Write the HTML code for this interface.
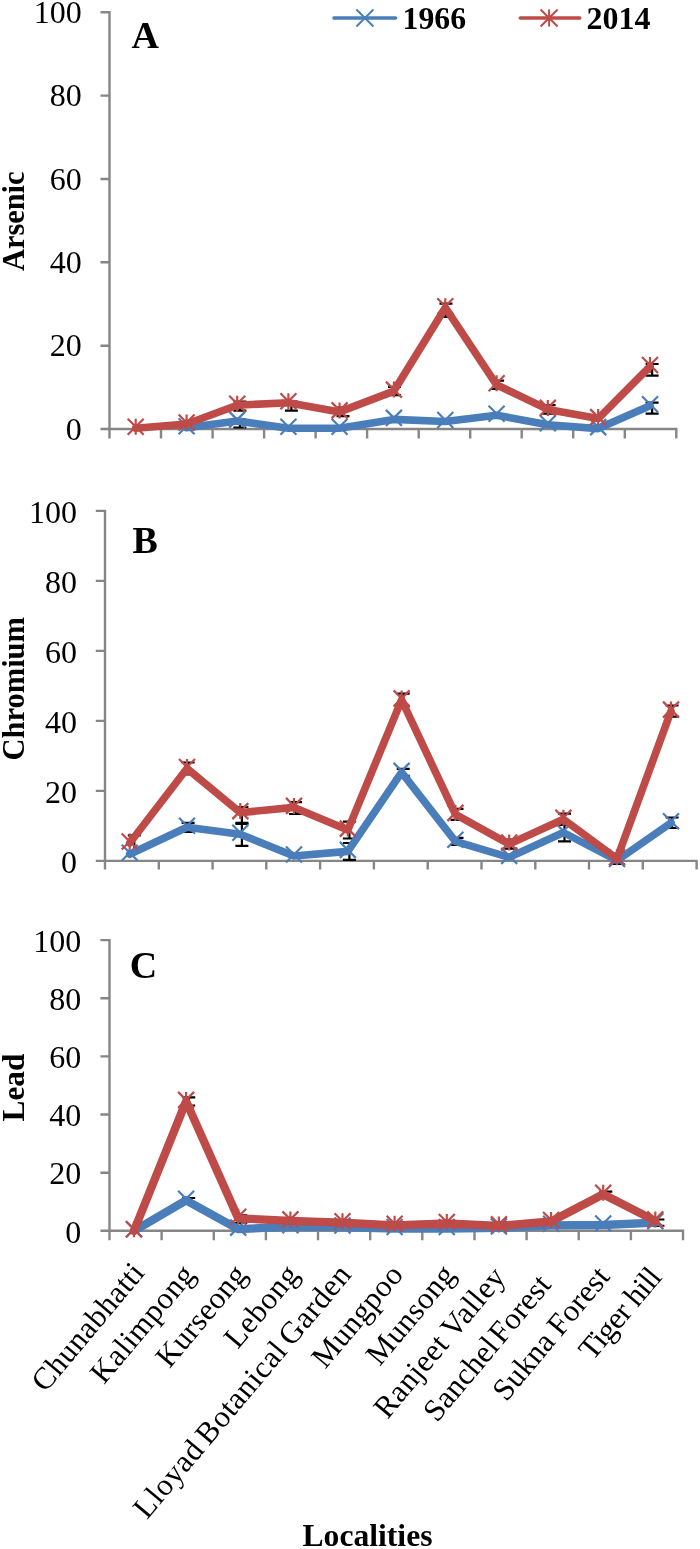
<!DOCTYPE html><html><head><meta charset="utf-8"><title>Localities</title><style>html,body{margin:0;padding:0;background:#fff}svg{display:block}</style></head><body><svg width="700" height="1549" viewBox="0 0 700 1549" font-family="'Liberation Serif', 'Times New Roman', serif" fill="#000">
<rect width="700" height="1549" fill="#fff"/>
<path d="M109.5 11.1V430.2M108.3 429.0H677.5M100.5 12.3H109.5M100.5 95.6H109.5M100.5 179.0H109.5M100.5 262.3H109.5M100.5 345.7H109.5M100.5 429.0H109.5M109.5 429.0V438.5M161.0 429.0V438.5M212.6 429.0V438.5M264.1 429.0V438.5M315.6 429.0V438.5M367.1 429.0V438.5M418.7 429.0V438.5M470.2 429.0V438.5M521.7 429.0V438.5M573.2 429.0V438.5M624.8 429.0V438.5M676.3 429.0V438.5" stroke="#868686" stroke-width="2.4" fill="none"/>
<path d="M239.9 419.6V427.5M233.4 419.6h13M233.4 427.5h13" stroke="#000" stroke-width="2.2" fill="none"/>
<path d="M291.4 401.5V410.7M284.9 401.5h13M284.9 410.7h13" stroke="#000" stroke-width="2.2" fill="none"/>
<path d="M652.1 364.0V375.7M645.6 364.0h13M645.6 375.7h13" stroke="#000" stroke-width="2.2" fill="none"/>
<path d="M652.1 402.7V413.6M645.6 402.7h13M645.6 413.6h13" stroke="#000" stroke-width="2.2" fill="none"/>
<path d="M446.0 303.6V316.9M439.5 303.6h13M439.5 316.9h13" stroke="#000" stroke-width="2.2" fill="none"/>
<path d="M394.5 386.9V395.2M388.0 386.9h13M388.0 395.2h13" stroke="#000" stroke-width="2.2" fill="none"/>
<path d="M497.6 380.7V389.0M491.1 380.7h13M491.1 389.0h13" stroke="#000" stroke-width="2.2" fill="none"/>
<path d="M549.1 405.2V413.6M542.6 405.2h13M542.6 413.6h13" stroke="#000" stroke-width="2.2" fill="none"/>
<path d="M343.0 407.7V416.1M336.5 407.7h13M336.5 416.1h13" stroke="#000" stroke-width="2.2" fill="none"/>
<path d="M239.9 401.5V410.7M233.4 401.5h13M233.4 410.7h13" stroke="#000" stroke-width="2.2" fill="none"/>
<path d="M186.6 427.7 L237.2 421.1 L288.4 428.2 L339.6 428.2 L393.9 419.4 L445.3 421.5 L496.6 415.2 L547.8 424.8 L598.2 428.6 L650.0 405.7" stroke="#4a7ebb" stroke-width="7.6" fill="none" stroke-linejoin="round" stroke-linecap="round"/>
<path d="M178.6 418.2L194.6 434.2M178.6 434.2L194.6 418.2M229.2 411.6L245.2 427.6M229.2 427.6L245.2 411.6M280.4 418.7L296.4 434.7M280.4 434.7L296.4 418.7M331.6 418.7L347.6 434.7M331.6 434.7L347.6 418.7M385.9 409.9L401.9 425.9M385.9 425.9L401.9 409.9M437.3 412.0L453.3 428.0M437.3 428.0L453.3 412.0M488.6 405.7L504.6 421.7M488.6 421.7L504.6 405.7M539.8 415.3L555.8 431.3M539.8 431.3L555.8 415.3M590.2 419.1L606.2 435.1M590.2 435.1L606.2 419.1M642.0 396.2L658.0 412.2M642.0 412.2L658.0 396.2" stroke="#4a7ebb" stroke-width="2.2" fill="none"/>
<path d="M135.7 428.2 L186.6 424.0 L237.2 405.2 L288.4 402.7 L339.6 411.9 L393.9 391.1 L445.3 307.7 L496.6 384.8 L547.8 409.4 L598.2 418.6 L650.0 366.5" stroke="#be4b48" stroke-width="7.6" fill="none" stroke-linejoin="round" stroke-linecap="round"/>
<path d="M127.7 418.7L143.7 434.7M127.7 434.7L143.7 418.7M135.7 418.7V434.7M178.6 414.5L194.6 430.5M178.6 430.5L194.6 414.5M186.6 414.5V430.5M229.2 395.7L245.2 411.7M229.2 411.7L245.2 395.7M237.2 395.7V411.7M280.4 393.2L296.4 409.2M280.4 409.2L296.4 393.2M288.4 393.2V409.2M331.6 402.4L347.6 418.4M331.6 418.4L347.6 402.4M339.6 402.4V418.4M385.9 381.6L401.9 397.6M385.9 397.6L401.9 381.6M393.9 381.6V397.6M437.3 298.2L453.3 314.2M437.3 314.2L453.3 298.2M445.3 298.2V314.2M488.6 375.3L504.6 391.3M488.6 391.3L504.6 375.3M496.6 375.3V391.3M539.8 399.9L555.8 415.9M539.8 415.9L555.8 399.9M547.8 399.9V415.9M590.2 409.1L606.2 425.1M590.2 425.1L606.2 409.1M598.2 409.1V425.1M642.0 357.0L658.0 373.0M642.0 373.0L658.0 357.0M650.0 357.0V373.0" stroke="#be4b48" stroke-width="2.2" fill="none"/>
<text x="81.8" y="23.0" font-size="32" text-anchor="end">100</text>
<text x="81.8" y="106.3" font-size="32" text-anchor="end">80</text>
<text x="81.8" y="189.7" font-size="32" text-anchor="end">60</text>
<text x="81.8" y="273.0" font-size="32" text-anchor="end">40</text>
<text x="81.8" y="356.3" font-size="32" text-anchor="end">20</text>
<text x="81.8" y="439.7" font-size="32" text-anchor="end">0</text>
<path d="M105.0 509.7V862.1M103.8 860.9H697.8M95.8 510.9H105.0M95.8 580.9H105.0M95.8 650.9H105.0M95.8 720.9H105.0M95.8 790.9H105.0M95.8 860.9H105.0M105.0 860.9V869.6M158.8 860.9V869.6M212.6 860.9V869.6M266.3 860.9V869.6M320.1 860.9V869.6M373.9 860.9V869.6M427.7 860.9V869.6M481.5 860.9V869.6M535.3 860.9V869.6M589.0 860.9V869.6M642.8 860.9V869.6M696.6 860.9V869.6" stroke="#868686" stroke-width="2.4" fill="none"/>
<path d="M134.3 835.4V850.8M127.8 835.4h13M127.8 850.8h13" stroke="#000" stroke-width="2.2" fill="none"/>
<path d="M188.1 762.5V774.4M181.6 762.5h13M181.6 774.4h13" stroke="#000" stroke-width="2.2" fill="none"/>
<path d="M188.1 822.8V831.9M181.6 822.8h13M181.6 831.9h13" stroke="#000" stroke-width="2.2" fill="none"/>
<path d="M241.9 807.0V823.8M235.4 807.0h13M235.4 823.8h13" stroke="#000" stroke-width="2.2" fill="none"/>
<path d="M241.9 822.8V845.9M235.4 822.8h13M235.4 845.9h13" stroke="#000" stroke-width="2.2" fill="none"/>
<path d="M295.6 802.1V814.0M289.1 802.1h13M289.1 814.0h13" stroke="#000" stroke-width="2.2" fill="none"/>
<path d="M349.4 821.7V838.5M342.9 821.7h13M342.9 838.5h13" stroke="#000" stroke-width="2.2" fill="none"/>
<path d="M349.4 843.0V859.9M342.9 843.0h13M342.9 859.9h13" stroke="#000" stroke-width="2.2" fill="none"/>
<path d="M403.2 693.6V706.2M396.7 693.6h13M396.7 706.2h13" stroke="#000" stroke-width="2.2" fill="none"/>
<path d="M403.2 768.9V775.9M396.7 768.9h13M396.7 775.9h13" stroke="#000" stroke-width="2.2" fill="none"/>
<path d="M457.0 808.8V819.9M450.5 808.8h13M450.5 819.9h13" stroke="#000" stroke-width="2.2" fill="none"/>
<path d="M457.0 837.8V844.8M450.5 837.8h13M450.5 844.8h13" stroke="#000" stroke-width="2.2" fill="none"/>
<path d="M510.8 839.5V848.6M504.3 839.5h13M504.3 848.6h13" stroke="#000" stroke-width="2.2" fill="none"/>
<path d="M564.5 813.6V824.9M558.0 813.6h13M558.0 824.9h13" stroke="#000" stroke-width="2.2" fill="none"/>
<path d="M564.5 823.8V841.3M558.0 823.8h13M558.0 841.3h13" stroke="#000" stroke-width="2.2" fill="none"/>
<path d="M618.3 853.5V864.0M611.8 853.5h13M611.8 864.0h13" stroke="#000" stroke-width="2.2" fill="none"/>
<path d="M672.1 705.5V716.7M665.6 705.5h13M665.6 716.7h13" stroke="#000" stroke-width="2.2" fill="none"/>
<path d="M672.1 817.5V828.0M665.6 817.5h13M665.6 828.0h13" stroke="#000" stroke-width="2.2" fill="none"/>
<path d="M129.7 854.2 L187.0 827.3 L240.3 834.3 L294.0 856.0 L347.8 851.4 L401.6 772.4 L455.4 841.3 L509.2 857.4 L563.4 832.5 L617.0 860.5 L671.0 822.8" stroke="#4a7ebb" stroke-width="7.6" fill="none" stroke-linejoin="round" stroke-linecap="round"/>
<path d="M121.7 844.8L137.7 860.8M121.7 860.8L137.7 844.8M179.0 817.8L195.0 833.8M179.0 833.8L195.0 817.8M232.3 824.8L248.3 840.8M232.3 840.8L248.3 824.8M286.0 846.5L302.0 862.5M286.0 862.5L302.0 846.5M339.8 841.9L355.8 857.9M339.8 857.9L355.8 841.9M393.6 762.9L409.6 778.9M393.6 778.9L409.6 762.9M447.4 831.8L463.4 847.8M447.4 847.8L463.4 831.8M501.2 847.9L517.2 863.9M501.2 863.9L517.2 847.9M555.4 823.0L571.4 839.0M555.4 839.0L571.4 823.0M609.0 851.0L625.0 867.0M609.0 867.0L625.0 851.0M663.0 813.2L679.0 829.2M663.0 829.2L679.0 813.2" stroke="#4a7ebb" stroke-width="2.2" fill="none"/>
<path d="M129.7 843.0 L187.0 768.5 L240.3 812.6 L294.0 807.4 L347.8 830.1 L401.6 699.9 L455.4 814.4 L509.2 844.1 L563.4 819.2 L617.0 858.8 L671.0 711.1" stroke="#be4b48" stroke-width="7.6" fill="none" stroke-linejoin="round" stroke-linecap="round"/>
<path d="M121.7 833.5L137.7 849.5M121.7 849.5L137.7 833.5M129.7 833.5V849.5M179.0 759.0L195.0 775.0M179.0 775.0L195.0 759.0M187.0 759.0V775.0M232.3 803.1L248.3 819.1M232.3 819.1L248.3 803.1M240.3 803.1V819.1M286.0 797.9L302.0 813.9M286.0 813.9L302.0 797.9M294.0 797.9V813.9M339.8 820.6L355.8 836.6M339.8 836.6L355.8 820.6M347.8 820.6V836.6M393.6 690.4L409.6 706.4M393.6 706.4L409.6 690.4M401.6 690.4V706.4M447.4 804.9L463.4 820.9M447.4 820.9L463.4 804.9M455.4 804.9V820.9M501.2 834.6L517.2 850.6M501.2 850.6L517.2 834.6M509.2 834.6V850.6M555.4 809.8L571.4 825.8M555.4 825.8L571.4 809.8M563.4 809.8V825.8M609.0 849.3L625.0 865.3M609.0 865.3L625.0 849.3M617.0 849.3V865.3M663.0 701.6L679.0 717.6M663.0 717.6L679.0 701.6M671.0 701.6V717.6" stroke="#be4b48" stroke-width="2.2" fill="none"/>
<text x="77.0" y="523.4" font-size="32" text-anchor="end">100</text>
<text x="77.0" y="593.4" font-size="32" text-anchor="end">80</text>
<text x="77.0" y="663.4" font-size="32" text-anchor="end">60</text>
<text x="77.0" y="733.4" font-size="32" text-anchor="end">40</text>
<text x="77.0" y="803.4" font-size="32" text-anchor="end">20</text>
<text x="77.0" y="873.4" font-size="32" text-anchor="end">0</text>
<path d="M109.5 938.9V1232.0M108.3 1230.8H684.2M100.4 940.1H109.5M100.4 998.2H109.5M100.4 1056.4H109.5M100.4 1114.5H109.5M100.4 1172.7H109.5M100.4 1230.8H109.5M109.5 1230.8V1240.3M161.6 1230.8V1240.3M213.8 1230.8V1240.3M265.9 1230.8V1240.3M318.0 1230.8V1240.3M370.2 1230.8V1240.3M422.3 1230.8V1240.3M474.5 1230.8V1240.3M526.6 1230.8V1240.3M578.7 1230.8V1240.3M630.9 1230.8V1240.3M683.0 1230.8V1240.3" stroke="#868686" stroke-width="2.4" fill="none"/>
<path d="M188.7 1097.4V1105.5M182.2 1097.4h13M182.2 1105.5h13" stroke="#000" stroke-width="2.2" fill="none"/>
<path d="M188.7 1198.0V1202.6M182.2 1198.0h13M182.2 1202.6h13" stroke="#000" stroke-width="2.2" fill="none"/>
<path d="M240.8 1215.4V1223.0M234.3 1215.4h13M234.3 1223.0h13" stroke="#000" stroke-width="2.2" fill="none"/>
<path d="M501.5 1222.4V1229.3M495.0 1222.4h13M495.0 1229.3h13" stroke="#000" stroke-width="2.2" fill="none"/>
<path d="M605.8 1191.6V1196.8M599.3 1191.6h13M599.3 1196.8h13" stroke="#000" stroke-width="2.2" fill="none"/>
<path d="M657.9 1219.5V1225.9M651.4 1219.5h13M651.4 1225.9h13" stroke="#000" stroke-width="2.2" fill="none"/>
<path d="M134.0 1230.8 L186.1 1200.3 L238.2 1229.1 L290.4 1226.7 L342.5 1227.0 L394.6 1228.5 L446.8 1228.5 L498.9 1227.9 L551.1 1225.3 L603.2 1225.0 L655.3 1222.7" stroke="#4a7ebb" stroke-width="8.3" fill="none" stroke-linejoin="round" stroke-linecap="round"/>
<path d="M126.0 1221.3L142.0 1237.3M126.0 1237.3L142.0 1221.3M178.1 1190.8L194.1 1206.8M178.1 1206.8L194.1 1190.8M230.2 1219.6L246.2 1235.6M230.2 1235.6L246.2 1219.6M282.4 1217.2L298.4 1233.2M282.4 1233.2L298.4 1217.2M334.5 1217.5L350.5 1233.5M334.5 1233.5L350.5 1217.5M386.6 1219.0L402.6 1235.0M386.6 1235.0L402.6 1219.0M438.8 1219.0L454.8 1235.0M438.8 1235.0L454.8 1219.0M490.9 1218.4L506.9 1234.4M490.9 1234.4L506.9 1218.4M543.1 1215.8L559.1 1231.8M543.1 1231.8L559.1 1215.8M595.2 1215.5L611.2 1231.5M595.2 1231.5L611.2 1215.5M647.3 1213.2L663.3 1229.2M647.3 1229.2L663.3 1213.2" stroke="#4a7ebb" stroke-width="2.2" fill="none"/>
<path d="M134.0 1230.8 L186.1 1101.4 L238.2 1218.3 L290.4 1220.9 L342.5 1222.7 L394.6 1225.3 L446.8 1223.5 L498.9 1225.9 L551.1 1221.5 L603.2 1194.2 L655.3 1220.9" stroke="#be4b48" stroke-width="8.3" fill="none" stroke-linejoin="round" stroke-linecap="round"/>
<path d="M126.0 1221.3L142.0 1237.3M126.0 1237.3L142.0 1221.3M134.0 1221.3V1237.3M178.1 1091.9L194.1 1107.9M178.1 1107.9L194.1 1091.9M186.1 1091.9V1107.9M230.2 1208.8L246.2 1224.8M230.2 1224.8L246.2 1208.8M238.2 1208.8V1224.8M282.4 1211.4L298.4 1227.4M282.4 1227.4L298.4 1211.4M290.4 1211.4V1227.4M334.5 1213.2L350.5 1229.2M334.5 1229.2L350.5 1213.2M342.5 1213.2V1229.2M386.6 1215.8L402.6 1231.8M386.6 1231.8L402.6 1215.8M394.6 1215.8V1231.8M438.8 1214.0L454.8 1230.0M438.8 1230.0L454.8 1214.0M446.8 1214.0V1230.0M490.9 1216.4L506.9 1232.4M490.9 1232.4L506.9 1216.4M498.9 1216.4V1232.4M543.1 1212.0L559.1 1228.0M543.1 1228.0L559.1 1212.0M551.1 1212.0V1228.0M595.2 1184.7L611.2 1200.7M595.2 1200.7L611.2 1184.7M603.2 1184.7V1200.7M647.3 1211.4L663.3 1227.4M647.3 1227.4L663.3 1211.4M655.3 1211.4V1227.4" stroke="#be4b48" stroke-width="2.2" fill="none"/>
<text x="81.3" y="951.8" font-size="32" text-anchor="end">100</text>
<text x="81.3" y="1009.9" font-size="32" text-anchor="end">80</text>
<text x="81.3" y="1068.1" font-size="32" text-anchor="end">60</text>
<text x="81.3" y="1126.2" font-size="32" text-anchor="end">40</text>
<text x="81.3" y="1184.3" font-size="32" text-anchor="end">20</text>
<text x="81.3" y="1242.5" font-size="32" text-anchor="end">0</text>
<text x="131.4" y="47.6" font-size="38" font-weight="bold">A</text>
<text x="132.6" y="553.2" font-size="38" font-weight="bold">B</text>
<text x="129.7" y="977.8" font-size="38" font-weight="bold">C</text>
<text transform="translate(23.6 271) rotate(-90)" font-size="32" font-weight="bold" textLength="99.5" lengthAdjust="spacingAndGlyphs">Arsenic</text>
<text transform="translate(23.6 760.5) rotate(-90)" font-size="32" font-weight="bold" textLength="143.5" lengthAdjust="spacingAndGlyphs">Chromium</text>
<text transform="translate(23.7 1121.5) rotate(-90)" font-size="32" font-weight="bold" textLength="68" lengthAdjust="spacingAndGlyphs">Lead</text>
<path d="M334 18H395.5" stroke="#4a7ebb" stroke-width="3.6" stroke-linecap="round"/>
<path d="M356.4 9.5l17 17m0-17l-17 17" stroke="#4a7ebb" stroke-width="2" fill="none"/>
<text x="402.5" y="28.5" font-size="32" font-weight="bold" textLength="63.5" lengthAdjust="spacingAndGlyphs">1966</text>
<path d="M520.3 18H579.7" stroke="#be4b48" stroke-width="3.6" stroke-linecap="round"/>
<path d="M540.6 9.5l17 17m0-17l-17 17M549.1 9.5v17" stroke="#be4b48" stroke-width="2" fill="none"/>
<text x="586.5" y="28.5" font-size="32" font-weight="bold" textLength="64" lengthAdjust="spacingAndGlyphs">2014</text>
<text transform="translate(145.9 1273.3) rotate(-50)" font-size="31" text-anchor="end" textLength="156.5" lengthAdjust="spacing">Chunabhatti</text>
<text transform="translate(196.1 1275.5) rotate(-50)" font-size="31" text-anchor="end" textLength="143.2" lengthAdjust="spacing">Kalimpong</text>
<text transform="translate(248.2 1275.5) rotate(-50)" font-size="31" text-anchor="end" textLength="122.5" lengthAdjust="spacing">Kurseong</text>
<text transform="translate(300.3 1275.5) rotate(-50)" font-size="31" text-anchor="end" textLength="97.4" lengthAdjust="spacing">Lebong</text>
<text transform="translate(352.4 1275.5) rotate(-50)" font-size="31" text-anchor="end" textLength="319.5" lengthAdjust="spacing" word-spacing="-3">Lloyad Botanical Garden</text>
<text transform="translate(404.5 1275.5) rotate(-50)" font-size="31" text-anchor="end" textLength="123.2" lengthAdjust="spacing">Mungpoo</text>
<text transform="translate(456.5 1275.5) rotate(-50)" font-size="31" text-anchor="end" textLength="119.4" lengthAdjust="spacing">Munsong</text>
<text transform="translate(506.7 1277.8) rotate(-50)" font-size="31" text-anchor="end" textLength="185.5" lengthAdjust="spacing" word-spacing="-1">Ranjeet Valley</text>
<text transform="translate(552.4 1285.5) rotate(-50)" font-size="31" text-anchor="end" textLength="179.7" lengthAdjust="spacing" word-spacing="-5">Sanchel Forest</text>
<text transform="translate(611.1 1277.5) rotate(-50)" font-size="31" text-anchor="end" textLength="163.2" lengthAdjust="spacing" word-spacing="-1">Sukna Forest</text>
<text transform="translate(663.0 1277.8) rotate(-50)" font-size="31" text-anchor="end" textLength="109.7" lengthAdjust="spacing">Tiger hill</text>
<text x="302.5" y="1546.3" font-size="32" font-weight="bold" textLength="130" lengthAdjust="spacingAndGlyphs">Localities</text>
</svg></body></html>
